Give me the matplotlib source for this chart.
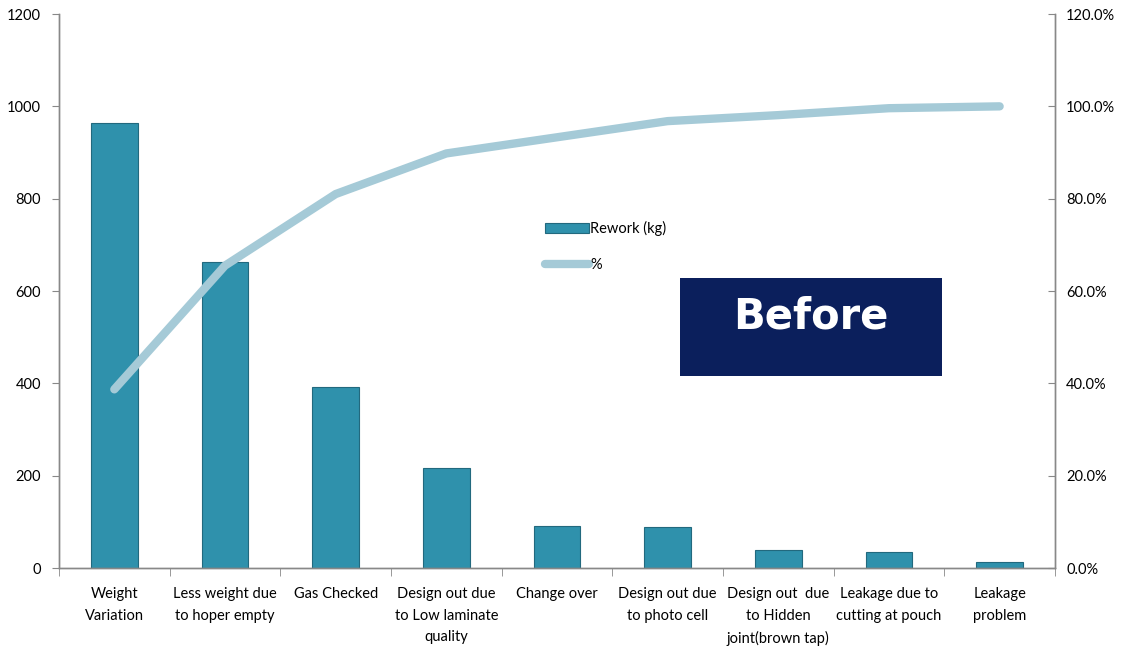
import matplotlib
matplotlib.use("Agg")
import matplotlib.pyplot as plt
import numpy as np
from matplotlib.ticker import FixedLocator, FuncFormatter
from matplotlib.patches import Rectangle

categories = ["Weight\nVariation", "Less weight due\nto hoper empty", "Gas Checked",
              "Design out due\nto Low laminate\nquality", "Change over",
              "Design out due\nto photo cell", "Design out  due\nto Hidden\njoint(brown tap)",
              "Leakage due to\ncutting at pouch", "Leakage\nproblem"]
rework_kg = [964, 663, 392, 216, 92, 89, 40, 35, 12]
cum_pct = [38.7, 65.5, 81.0, 89.8, 93.3, 96.8, 98.1, 99.6, 100.0]
left_ticks = [0, 200, 400, 600, 800, 1000, 1200]
right_ticks = [0, 20, 40, 60, 80, 100, 120]

plt.rcParams['font.family'] = ['Lato', 'DejaVu Sans']

fig = plt.figure(figsize=(11.3, 6.49), dpi=100)
ax = fig.add_axes([0.0522, 0.1248, 0.8814, 0.8536])
ax2 = ax.twinx()

x = np.arange(len(categories))
ax.bar(x, rework_kg, width=0.42, color='#2f91ac', edgecolor='#22697e', linewidth=0.8,
       label='Rework (kg)', zorder=2)
ax.set_xlim(-0.5, len(categories) - 0.5)
ax.set_ylim(0, 1200)
ax.yaxis.set_major_locator(FixedLocator(left_ticks))

ax2.plot(x, cum_pct, color='#a5cad7', linewidth=6, solid_capstyle='round',
         solid_joinstyle='round', label='%', zorder=3)
ax2.set_ylim(0, 120)
ax2.yaxis.set_major_locator(FixedLocator(right_ticks))
ax2.yaxis.set_major_formatter(FuncFormatter(lambda v, p: f"{v:.1f}%"))

ax.set_xticks(x)
ax.set_xticklabels(categories, fontsize=10.5, color='#000000', linespacing=1.68)
ax.tick_params(axis='x', which='major', length=0, pad=14)
ax.set_xticks(np.arange(-0.5, len(categories) + 0.5, 1), minor=True)
ax.tick_params(axis='x', which='minor', length=6, color='#888888', direction='out')
ax.tick_params(axis='y', length=5, color='#888888', labelsize=10.5, pad=8)
ax2.tick_params(axis='y', length=5, color='#888888', labelsize=10.5, direction='in', pad=8)

for a in (ax, ax2):
    a.spines['top'].set_visible(False)
    for s in ('left', 'right', 'bottom'):
        a.spines[s].set_color('#888888')
        a.spines[s].set_linewidth(1.0)

# legend
h1, l1 = ax.get_legend_handles_labels()
h2, l2 = ax2.get_legend_handles_labels()
ax2.legend(h1 + h2, l1 + l2, loc='upper left', bbox_to_anchor=(0.475, 0.65), frameon=False,
           fontsize=10.5, handlelength=3, labelspacing=1.5, handletextpad=0.1)

# Before box
fig.patches.append(Rectangle((680/1130, 1-376/649), 262/1130, 98/649,
                   transform=fig.transFigure, facecolor='#0b1f5c', edgecolor='none', zorder=5))
fig.text(811/1130, 1-317/649, "Before", fontsize=30, fontweight='bold', color='white',
         ha='center', va='center', family=['DejaVu Sans'], zorder=6)

fig.savefig("out.png", dpi=100)
